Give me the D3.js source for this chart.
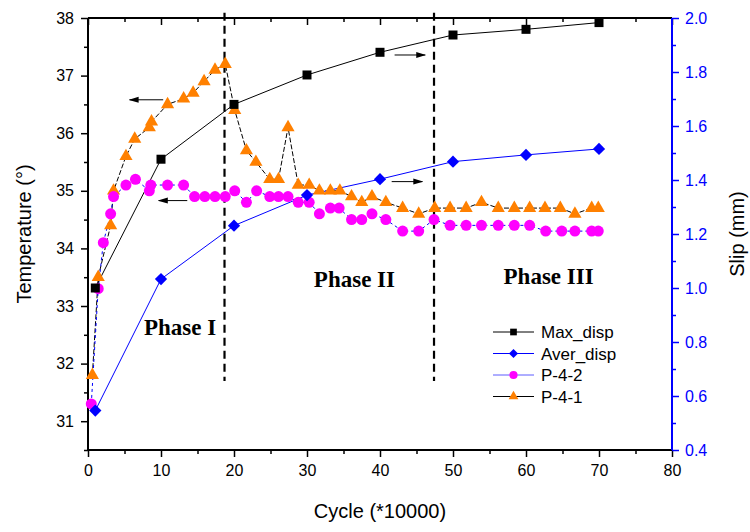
<!DOCTYPE html>
<html>
<head>
<meta charset="utf-8">
<script src="https://cdn.jsdelivr.net/npm/d3@7"></script>
<style>
  body { margin: 0; background: #fff; }
  text { font-family: "Liberation Sans", Arial, sans-serif; }
  .phase { font-family: "Liberation Serif", "Times New Roman", serif; font-weight: bold; font-size: 23px; }
</style>
</head>
<body>
<div id="chart"></div>
<script>
// slip series (right axis)
const maxCycle = [1, 10, 20, 30, 40, 50, 60, 70]
const maxDisp = [1.0, 1.477, 1.68, 1.789, 1.873, 1.937, 1.958, 1.983]
const averCycle = [1, 10, 20, 30, 40, 50, 60, 70]
const averDisp = [0.546, 1.033, 1.231, 1.344, 1.403, 1.468, 1.493, 1.515]

// temperature series (left axis)
const p42Cycle = [0.45, 1.4, 2.1, 3.1, 3.5, 5.2, 6.5, 8.4, 8.6, 10.9, 13.1, 14.6, 16.0, 17.4, 18.8, 20.1,
  21.7, 23.1, 24.9, 26.1, 27.4, 28.8, 30.3, 31.7, 33.2, 34.4, 36.1, 37.5, 38.9, 40.8, 43.1, 45.3,
  47.4, 49.6, 51.8, 53.9, 56.2, 58.4, 60.5, 62.7, 64.9, 66.7, 69.0, 69.9]
const p42Temp = [31.3, 33.3, 34.1, 34.6, 34.9, 35.1, 35.2, 35.0, 35.1, 35.1, 35.1, 34.9, 34.9, 34.9, 34.9, 35.0,
  34.8, 35.0, 34.9, 34.9, 34.9, 34.8, 34.8, 34.6, 34.7, 34.7, 34.5, 34.5, 34.6, 34.5, 34.3, 34.3,
  34.5, 34.4, 34.4, 34.4, 34.4, 34.4, 34.4, 34.3, 34.3, 34.3, 34.3, 34.3]
const p41Cycle = [0.6, 1.4, 3.1, 3.5, 5.2, 6.4, 8.4, 8.7, 10.9, 13.1, 14.4, 15.9, 17.4, 18.8, 20.1, 21.7,
  23.0, 24.9, 26.1, 27.4, 28.8, 30.3, 31.7, 33.2, 34.5, 36.1, 37.5, 38.9, 40.8, 43.1, 45.3, 47.5,
  49.6, 51.8, 53.9, 56.2, 58.4, 60.5, 62.6, 64.7, 66.7, 69.0, 69.9]
const p41Temp = [31.8, 33.5, 34.4, 35.0, 35.6, 35.9, 36.1, 36.2, 36.5, 36.6, 36.7, 36.9, 37.1, 37.2, 36.4, 35.7,
  35.5, 35.2, 35.2, 36.1, 35.1, 35.1, 35.0, 35.0, 35.0, 34.9, 34.8, 34.9, 34.8, 34.7, 34.6, 34.7,
  34.7, 34.7, 34.8, 34.7, 34.7, 34.7, 34.7, 34.7, 34.6, 34.7, 34.7]

const xMajor = d3.range(0, 81, 10)
const xMinor = d3.range(5, 80, 10)
const tMajor = d3.range(31, 39, 1)
const tMinor = d3.range(30.5, 38, 1)
const sMajor = [0.4, 0.6, 0.8, 1.0, 1.2, 1.4, 1.6, 1.8, 2.0]
const sMinor = [0.5, 0.7, 0.9, 1.1, 1.3, 1.5, 1.7, 1.9]

const phaseLines = [18.7, 47.4]
const phaseLabels = [
  {text: 'Phase I', x: 12.6, t: 32.5},
  {text: 'Phase II', x: 36.5, t: 33.33},
  {text: 'Phase III', x: 63.1, t: 33.38},
]
// arrows: from -> to, on temperature (t) or slip (s) axis
const arrows = [
  {x0: 10.3, x1: 5.7, t: 36.58},
  {x0: 13.6, x1: 9.7, t: 34.83},
  {x0: 42.0, x1: 46.2, s: 1.863},
  {x0: 41.6, x1: 45.8, s: 1.394},
]

const W = 750, H = 532
const m = {left: 88, right: 672, top: 18, bottom: 450}

const x = d3.scaleLinear([0, 80], [m.left, m.right])
const yT = d3.scaleLinear([30.5, 38], [m.bottom, m.top])
const yS = d3.scaleLinear([0.4, 2.0], [m.bottom, m.top])

const svg = d3.select('#chart').append('svg')
  .attr('width', W).attr('height', H)

svg.append('defs').append('marker')
  .attr('id', 'head')
  .attr('viewBox', '0 0 10 10')
  .attr('refX', 9).attr('refY', 5)
  .attr('markerWidth', 10).attr('markerHeight', 10)
  .attr('markerUnits', 'userSpaceOnUse')
  .attr('orient', 'auto')
  .append('path')
    .attr('d', 'M0,2 L10,5 L0,8 Z')
    .attr('fill', '#000')

// axes
const styleAxis = (g, color) => {
  g.select('.domain').remove()
  g.selectAll('line').attr('stroke', color).attr('stroke-width', 1.5)
  g.selectAll('text').attr('fill', color).attr('font-size', 16)
}

svg.append('g').attr('transform', `translate(0,${m.bottom})`)
  .call(d3.axisBottom(x).tickValues(xMajor).tickSize(7).tickPadding(8).tickFormat(d3.format('d')))
  .call(g => styleAxis(g, '#000'))
svg.append('g').attr('transform', `translate(0,${m.bottom})`)
  .call(d3.axisBottom(x).tickValues(xMinor).tickSize(4).tickFormat(''))
  .call(g => styleAxis(g, '#000'))
svg.append('g').attr('transform', `translate(0,${m.top})`)
  .call(d3.axisBottom(x).tickValues(xMajor).tickSize(7).tickFormat(''))
  .call(g => styleAxis(g, '#000'))
svg.append('g').attr('transform', `translate(0,${m.top})`)
  .call(d3.axisBottom(x).tickValues(xMinor).tickSize(4).tickFormat(''))
  .call(g => styleAxis(g, '#000'))

svg.append('g').attr('transform', `translate(${m.left},0)`)
  .call(d3.axisLeft(yT).tickValues(tMajor).tickSize(7).tickPadding(7).tickFormat(d3.format('d')))
  .call(g => styleAxis(g, '#000'))
svg.append('g').attr('transform', `translate(${m.left},0)`)
  .call(d3.axisLeft(yT).tickValues(tMinor).tickSize(4).tickFormat(''))
  .call(g => styleAxis(g, '#000'))

svg.append('g').attr('transform', `translate(${m.right},0)`)
  .call(d3.axisRight(yS).tickValues(sMajor).tickSize(7).tickPadding(6).tickFormat(d3.format('.1f')))
  .call(g => styleAxis(g, '#0000ff'))
svg.append('g').attr('transform', `translate(${m.right},0)`)
  .call(d3.axisRight(yS).tickValues(sMinor).tickSize(4).tickFormat(''))
  .call(g => styleAxis(g, '#0000ff'))

svg.append('line').attr('x1', m.left).attr('x2', m.right).attr('y1', m.bottom).attr('y2', m.bottom)
  .attr('stroke', '#000').attr('stroke-width', 2)
svg.append('line').attr('x1', m.left).attr('x2', m.right).attr('y1', m.top).attr('y2', m.top)
  .attr('stroke', '#000').attr('stroke-width', 2)
svg.append('line').attr('x1', m.left).attr('x2', m.left).attr('y1', m.top).attr('y2', m.bottom)
  .attr('stroke', '#000').attr('stroke-width', 2)
svg.append('line').attr('x1', m.right).attr('x2', m.right).attr('y1', m.top).attr('y2', m.bottom)
  .attr('stroke', '#0000ff').attr('stroke-width', 2)

// axis titles
svg.append('text')
  .attr('transform', `translate(31,${(m.top + m.bottom) / 2}) rotate(-90)`)
  .attr('text-anchor', 'middle').attr('font-size', 20)
  .text('Temperature (°)')
svg.append('text')
  .attr('transform', `translate(744,${(m.top + m.bottom) / 2}) rotate(-90)`)
  .attr('text-anchor', 'middle').attr('font-size', 20)
  .text('Slip (mm)')
svg.append('text')
  .attr('x', (m.left + m.right) / 2).attr('y', 518)
  .attr('text-anchor', 'middle').attr('font-size', 20)
  .text('Cycle (*10000)')

// phase dividers
svg.selectAll('.phase-line')
  .data(phaseLines)
  .enter()
    .append('line')
    .attr('x1', d => x(d)).attr('x2', d => x(d))
    .attr('y1', yT(38.09)).attr('y2', yT(31.7))
    .attr('stroke', '#000').attr('stroke-width', 2.2)
    .attr('stroke-dasharray', '8,5')

svg.selectAll('.phase')
  .data(phaseLabels)
  .enter()
    .append('text')
    .attr('class', 'phase')
    .attr('x', d => x(d.x)).attr('y', d => yT(d.t))
    .attr('text-anchor', 'middle')
    .text(d => d.text)

// series
const series = [
  {name: 'P-4-1', cx: p41Cycle, cy: p41Temp, y: yT, line: '#000', dash: '5,2', fill: '#ff8000',
    symbol: d3.symbolTriangle, size: 75, rot: 0},
  {name: 'P-4-2', cx: p42Cycle, cy: p42Temp, y: yT, line: '#0000ff', dash: '3,3', fill: '#ff00ff',
    symbol: d3.symbolCircle, size: 95, rot: 0},
  {name: 'Aver_disp', cx: averCycle, cy: averDisp, y: yS, line: '#0000ff', dash: null, fill: '#0000ff',
    symbol: d3.symbolSquare, size: 75, rot: 45},
  {name: 'Max_disp', cx: maxCycle, cy: maxDisp, y: yS, line: '#000', dash: null, fill: '#000',
    symbol: d3.symbolSquare, size: 81, rot: 0},
]

series.forEach(s => {
  const pts = s.cx.map((c, i) => [x(c), s.y(s.cy[i])])
  svg.append('path')
    .attr('d', d3.line()(pts))
    .attr('fill', 'none')
    .attr('stroke', s.line).attr('stroke-width', 1)
    .attr('stroke-dasharray', s.dash)
})

series.forEach(s => {
  const pts = s.cx.map((c, i) => [x(c), s.y(s.cy[i])])
  svg.append('g').selectAll('path')
    .data(pts)
    .enter()
      .append('path')
      .attr('d', d3.symbol(s.symbol, s.size))
      .attr('transform', d => `translate(${d[0]},${d[1]}) rotate(${s.rot})`)
      .attr('fill', s.fill)
})

// arrows
svg.selectAll('.arrow')
  .data(arrows)
  .enter()
    .append('line')
    .attr('x1', d => x(d.x0)).attr('x2', d => x(d.x1))
    .attr('y1', d => d.t !== undefined ? yT(d.t) : yS(d.s))
    .attr('y2', d => d.t !== undefined ? yT(d.t) : yS(d.s))
    .attr('stroke', '#000').attr('stroke-width', 1)
    .attr('marker-end', 'url(#head)')

// legend
const legendOrder = ['Max_disp', 'Aver_disp', 'P-4-2', 'P-4-1']
const legendLine = {'Max_disp': '#000', 'Aver_disp': '#0000ff', 'P-4-2': '#5c5cff', 'P-4-1': '#000'}
const legend = svg.append('g').attr('transform', 'translate(493,332)')
legendOrder.forEach((name, i) => {
  const s = series.find(d => d.name === name)
  const row = legend.append('g').attr('transform', `translate(0,${i * 21.5})`)
  row.append('line').attr('x1', 0).attr('x2', 41).attr('y1', 0).attr('y2', 0)
    .attr('stroke', legendLine[name]).attr('stroke-width', 1)
  row.append('path')
    .attr('d', d3.symbol(s.symbol, s.size * 0.55))
    .attr('transform', `translate(20.5,0) rotate(${s.rot})`)
    .attr('fill', s.fill)
  row.append('text').attr('x', 48).attr('y', 6).attr('font-size', 17).text(name)
})
</script>
</body>
</html>
